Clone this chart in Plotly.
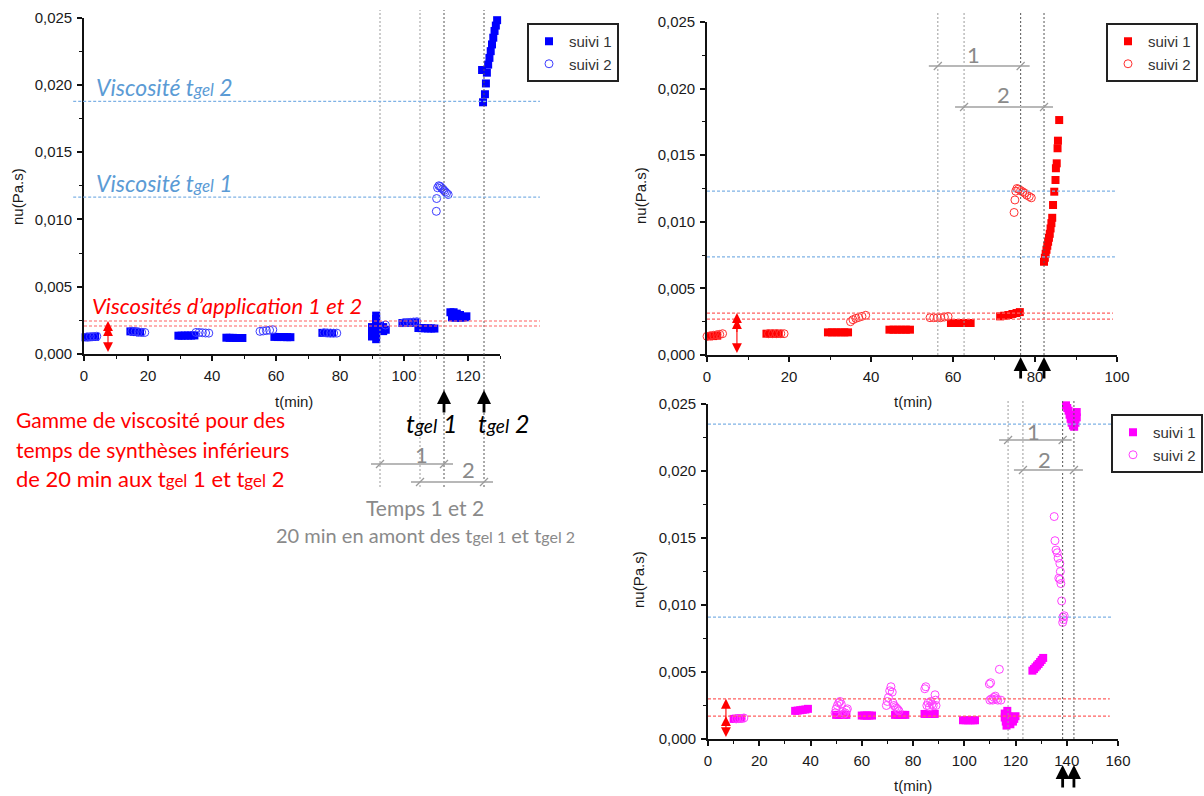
import plotly.graph_objects as go

W, H = 1204, 796

# ---------------- data ----------------
# Panel A (left, blue): (t [min], nu [Pa.s])
a_suivi1 = [
    (0.5, 0.00124), (1.5, 0.00125), (2.5, 0.00127), (3.5, 0.00128),
    (14.5, 0.00168), (15.5, 0.00166), (16.5, 0.00163), (17.5, 0.00160),
    (29.5, 0.00136), (30.5, 0.00136), (31.5, 0.00137), (32.5, 0.00137), (33.5, 0.00137), (34.5, 0.00138),
    (44.5, 0.00121), (45.5, 0.00120), (46.5, 0.00120), (47.5, 0.00119), (48.5, 0.00119), (49.5, 0.00119),
    (59.5, 0.00127), (60.5, 0.00126), (61.5, 0.00126), (62.5, 0.00126), (63.5, 0.00125), (64.5, 0.00125),
    (74.5, 0.00157), (75.5, 0.00156), (76.5, 0.00155), (77.5, 0.00155),
    (90.0, 0.00130), (90.0, 0.00170), (90.0, 0.00200),
    (91.3, 0.00110), (91.3, 0.00140), (91.3, 0.00170), (91.3, 0.00200), (91.3, 0.00230), (91.3, 0.00260), (91.3, 0.00285),
    (92.5, 0.00180), (92.5, 0.00210), (93.5, 0.00170), (93.5, 0.00200), (94.3, 0.00180),
    (99.5, 0.00230), (100.5, 0.00231), (101.5, 0.00232), (102.5, 0.00233), (103.5, 0.00235),
    (104.5, 0.00193), (105.5, 0.00192), (106.5, 0.00191), (107.5, 0.00190), (108.5, 0.00190), (109.5, 0.00189),
    (114.5, 0.00310), (115.5, 0.00310), (116.5, 0.00300), (117.5, 0.00290), (115.0, 0.00272), (116.0, 0.00270),
    (117.0, 0.00270), (118.0, 0.00270), (119.0, 0.00272), (119.5, 0.00280),
    (124.7, 0.01870), (125.3, 0.01930), (125.6, 0.02010), (124.4, 0.02110), (125.9, 0.02090), (126.3, 0.02150),
    (126.7, 0.02200), (127.1, 0.02250), (127.5, 0.02300), (127.9, 0.02350), (128.3, 0.02400), (128.7, 0.02440),
    (129.1, 0.02480),
]
a_suivi2 = [
    (1.0, 0.00128), (2.0, 0.00129), (3.0, 0.00130), (4.0, 0.00132),
    (15.0, 0.00170), (16.0, 0.00168), (17.0, 0.00165), (18.0, 0.00162), (19.0, 0.00160),
    (35.0, 0.00160), (36.0, 0.00160), (37.0, 0.00158), (38.0, 0.00156), (39.0, 0.00155),
    (55.0, 0.00168), (56.0, 0.00171), (57.0, 0.00174), (58.0, 0.00177), (59.0, 0.00180),
    (75.0, 0.00158), (76.0, 0.00157), (77.0, 0.00156), (78.0, 0.00155), (79.0, 0.00155),
    (94.2, 0.00215),
    (100.0, 0.00233), (101.0, 0.00234), (102.0, 0.00235), (103.0, 0.00238), (104.0, 0.00240),
    (110.1, 0.01060), (110.2, 0.01155), (110.5, 0.01235), (110.9, 0.01250), (111.3, 0.01245), (111.7, 0.01235),
    (112.1, 0.01225), (112.5, 0.01215), (112.9, 0.01205), (113.3, 0.01195), (113.8, 0.01185),
]
a_vlines = [92.5, 105.0, 112.5, 125.0]          # t-20 (x2), tgel1, tgel2
a_gel_levels = [0.01165, 0.01877]
a_app_levels = [0.00208, 0.00245]

# Panel B (top right, red)
b_suivi1 = [
    (0.5, 0.00140), (1.5, 0.00142), (2.5, 0.00145),
    (14.5, 0.00160), (15.5, 0.00160), (16.5, 0.00160), (17.5, 0.00160),
    (29.5, 0.00170), (30.5, 0.00170), (31.5, 0.00170), (32.5, 0.00170), (33.5, 0.00170), (34.4, 0.00170),
    (44.5, 0.00190), (45.5, 0.00190), (46.5, 0.00190), (47.5, 0.00190), (48.5, 0.00190), (49.5, 0.00190),
    (59.5, 0.00240), (60.5, 0.00240), (61.5, 0.00240), (62.5, 0.00240), (63.5, 0.00240), (64.3, 0.00240),
    (71.5, 0.00290), (72.5, 0.00295), (73.5, 0.00300), (74.5, 0.00308), (75.5, 0.00315), (76.3, 0.00322),
    (82.2, 0.00700), (82.4, 0.00730), (82.6, 0.00760), (82.8, 0.00790), (83.0, 0.00820), (83.2, 0.00850),
    (83.4, 0.00880), (83.6, 0.00910), (83.8, 0.00950), (84.0, 0.00990), (84.2, 0.01030), (84.4, 0.01126),
    (84.7, 0.01226), (85.0, 0.01314), (85.1, 0.01402), (85.3, 0.01439), (85.5, 0.01552), (85.6, 0.01609),
    (85.9, 0.01764),
]
b_suivi2 = [
    (0.0, 0.00140), (0.8, 0.00145), (1.6, 0.00148), (2.4, 0.00152), (3.1, 0.00155), (3.8, 0.00160),
    (15.0, 0.00160), (16.0, 0.00160), (17.0, 0.00160), (18.0, 0.00160), (18.8, 0.00160),
    (35.0, 0.00250), (35.6, 0.00265), (36.3, 0.00275), (37.0, 0.00282), (37.8, 0.00290), (38.7, 0.00298),
    (54.4, 0.00280), (55.3, 0.00280), (56.2, 0.00280), (57.0, 0.00280), (57.9, 0.00285), (58.8, 0.00290),
    (74.9, 0.01070), (75.1, 0.01164), (75.3, 0.01230), (75.6, 0.01250), (76.0, 0.01245), (76.5, 0.01235),
    (77.0, 0.01225), (77.5, 0.01215), (78.0, 0.01200), (78.6, 0.01190), (79.1, 0.01180),
]
b_vlines = [56.3, 62.7, 76.5, 82.2]
b_gel_levels = [0.00736, 0.01230]
b_app_levels = [0.00270, 0.00315]

# Panel C (bottom right, magenta)
c_suivi1 = [
    (10.0, 0.00150), (11.0, 0.00152), (12.0, 0.00153), (13.0, 0.00155),
    (34.0, 0.00210), (35.0, 0.00212), (36.0, 0.00215), (37.0, 0.00218), (38.0, 0.00220), (39.0, 0.00225),
    (50.0, 0.00180), (51.0, 0.00180), (52.0, 0.00180), (53.0, 0.00180), (54.0, 0.00180),
    (60.0, 0.00175), (61.0, 0.00175), (62.0, 0.00175), (63.0, 0.00175), (64.0, 0.00175),
    (73.0, 0.00180), (74.0, 0.00180), (75.0, 0.00180), (76.0, 0.00180), (77.0, 0.00180),
    (84.5, 0.00187), (85.5, 0.00187), (86.5, 0.00187), (87.5, 0.00187), (88.5, 0.00187),
    (99.5, 0.00140), (100.5, 0.00140), (101.5, 0.00140), (102.5, 0.00140), (103.5, 0.00140), (104.2, 0.00140),
    (115.8, 0.00190), (115.8, 0.00160), (116.2, 0.00130), (116.5, 0.00100), (116.8, 0.00210), (117.2, 0.00170),
    (117.6, 0.00140), (118.0, 0.00110), (118.5, 0.00160), (119.0, 0.00130), (119.5, 0.00150), (120.0, 0.00170),
    (126.6, 0.00510), (127.2, 0.00522), (127.8, 0.00535), (128.4, 0.00548), (129.0, 0.00560), (129.6, 0.00575),
    (130.2, 0.00590), (130.8, 0.00605),
    (139.7, 0.02490), (140.2, 0.02470), (140.7, 0.02450), (141.1, 0.02420), (141.5, 0.02390), (141.9, 0.02360),
    (142.4, 0.02340), (142.9, 0.02330), (143.4, 0.02360), (143.9, 0.02400), (143.9, 0.02440),
]
c_suivi2 = [
    (11.0, 0.00150), (12.0, 0.00152), (13.0, 0.00153), (14.0, 0.00157),
    (49.6, 0.00195), (50.0, 0.00225), (50.5, 0.00250), (51.0, 0.00270), (51.5, 0.00280), (52.0, 0.00260),
    (52.5, 0.00205), (53.0, 0.00185), (53.5, 0.00195), (54.0, 0.00215), (54.4, 0.00225),
    (69.6, 0.00250), (70.0, 0.00280), (70.4, 0.00310), (70.9, 0.00360), (71.4, 0.00390), (71.9, 0.00350),
    (72.2, 0.00270), (72.6, 0.00250), (73.1, 0.00240), (73.6, 0.00230), (74.1, 0.00220), (74.5, 0.00210),
    (84.6, 0.00375), (85.0, 0.00390), (85.4, 0.00250), (85.9, 0.00270), (86.4, 0.00240), (86.9, 0.00280),
    (87.4, 0.00260), (87.9, 0.00250), (88.6, 0.00330), (88.8, 0.00290), (89.0, 0.00250),
    (109.8, 0.00410), (110.3, 0.00420), (110.0, 0.00290), (110.6, 0.00300), (111.1, 0.00290), (111.6, 0.00310),
    (112.1, 0.00320), (112.6, 0.00300), (113.1, 0.00290), (113.7, 0.00520), (114.3, 0.00290),
    (135.1, 0.01660), (135.4, 0.01480), (135.8, 0.01410), (136.3, 0.01390), (136.6, 0.01350), (137.3, 0.01310),
    (137.5, 0.01250), (136.9, 0.01200), (137.4, 0.01190), (137.7, 0.01160), (138.0, 0.01030), (138.4, 0.00870),
    (138.5, 0.00910), (138.7, 0.00890), (139.0, 0.00920),
]
c_vlines = [117.1, 122.9, 138.4, 142.8]
c_gel_levels = [0.00910, 0.02350]
c_app_levels = [0.00170, 0.00300]

y_range = [0, 0.025]

# ---------------- helpers ----------------
def fx(p):
    return p / W


def fy(p):
    return 1 - p / H


TICKFONT = dict(family="Liberation Sans, Arial, sans-serif", size=15, color="#1a1a1a")
TXT = "Lato, 'Open Sans', sans-serif"
GRAY_T = "#8a8a8a"
GRAY_L = "#b8b8b8"
BLUE_T = "#5b9bd5"
BLUE_L = "#7fb2e5"
RED_L = "#ff6060"

fig = go.Figure()
shapes = []
annots = []

panels = [
    dict(xa="x", ya="y", xid="xaxis", yid="yaxis", xr=[0, 130], xpx=[84, 500], ypx=[354, 17.5],
         s1=a_suivi1, s2=a_suivi2, c1="#0000ff", c2="#3c3cff", leg="legend",
         vl=a_vlines, vtop=10, vbot=487, gel=a_gel_levels, app=a_app_levels,
         blue_x=[-0.026, 1.096], red_x=[0.0, 1.096], arrow_x=7.5,
         dim_py=[464, 482], dim_lab=[(421, 455), (468, 470)],
         up_arrows_py=(390, 24), tmin=(294, 401), nu=(17, 197)),
    dict(xa="x2", ya="y2", xid="xaxis2", yid="yaxis2", xr=[0, 100], xpx=[707, 1117], ypx=[355, 22],
         s1=b_suivi1, s2=b_suivi2, c1="#ff0000", c2="#ff3030", leg="legend2",
         vl=b_vlines, vtop=12, vbot=355, gel=b_gel_levels, app=b_app_levels,
         blue_x=[0.0, 0.995], red_x=[0.0, 0.99], arrow_x=7.3,
         dim_py=[66, 107], dim_lab=[(973, 55), (1003, 95)],
         up_arrows_py=(357, 23), tmin=(913, 401), nu=(640, 196)),
    dict(xa="x3", ya="y3", xid="xaxis3", yid="yaxis3", xr=[0, 160], xpx=[708, 1118], ypx=[739, 404],
         s1=c_suivi1, s2=c_suivi2, c1="#ff00ff", c2="#ff40ff", leg="legend3",
         vl=c_vlines, vtop=400, vbot=739, gel=c_gel_levels, app=c_app_levels,
         blue_x=[0.0, 0.985], red_x=[0.0, 0.98], arrow_x=7.0,
         dim_py=[440, 470], dim_lab=[(1033, 431), (1044, 460)],
         up_arrows_py=(765, 24), tmin=(913, 785), nu=(638, 580)),
]

layout_axes = {}
for p in panels:
    xa, ya = p["xa"], p["ya"]
    s1x, s1y = zip(*p["s1"])
    s2x, s2y = zip(*p["s2"])
    fig.add_trace(go.Scatter(
        x=s1x, y=s1y, mode="markers", name="suivi 1", xaxis=xa, yaxis=ya, legend=p["leg"],
        marker=dict(symbol="square", size=8, color=p["c1"], line=dict(width=0)), cliponaxis=False))
    fig.add_trace(go.Scatter(
        x=s2x, y=s2y, mode="markers", name="suivi 2", xaxis=xa, yaxis=ya, legend=p["leg"],
        marker=dict(symbol="circle-open", size=8, color=p["c2"], line=dict(color=p["c2"], width=1)),
        cliponaxis=False))

    ydom = [fy(p["ypx"][0]), fy(p["ypx"][1])]
    common = dict(showline=True, linecolor="#111", linewidth=1.6, ticks="outside", ticklen=5,
                  tickwidth=1.5, tickcolor="#111", showgrid=False, zeroline=False, tickfont=TICKFONT,
                  ticklabelstandoff=2, automargin=False)
    layout_axes[p["xid"]] = dict(common, domain=[fx(p["xpx"][0]), fx(p["xpx"][1])], range=p["xr"],
                                 anchor=ya, tick0=0, dtick=20,
                                 minor=dict(ticks="outside", ticklen=3, tickwidth=1.2, tickcolor="#111",
                                            dtick=10, tick0=0, showgrid=False))
    layout_axes[p["yid"]] = dict(common, domain=ydom, range=y_range, anchor=xa, tick0=0, dtick=0.005,
                                 tickformat=".3f",
                                 minor=dict(ticks="outside", ticklen=3, tickwidth=1.2, tickcolor="#111",
                                            dtick=0.0025, tick0=0, showgrid=False))

    # vertical dashed lines
    ylen = p["ypx"][0] - p["ypx"][1]
    vt = (p["ypx"][0] - p["vtop"]) / ylen
    vb = (p["ypx"][0] - p["vbot"]) / ylen
    for i, v in enumerate(p["vl"]):
        shapes.append(dict(type="line", xref=xa, yref=ya + " domain", x0=v, x1=v, y0=vb, y1=vt,
                           line=dict(color="#9a9a9a" if i < 2 else "#555555", width=1, dash="2px,2px")))
    # horizontal levels
    for g in p["gel"]:
        shapes.append(dict(type="line", xref=xa + " domain", yref=ya, x0=p["blue_x"][0], x1=p["blue_x"][1],
                           y0=g, y1=g, line=dict(color=BLUE_L, width=1.2, dash="3px,2px")))
    for a in p["app"]:
        shapes.append(dict(type="line", xref=xa + " domain", yref=ya, x0=p["red_x"][0], x1=p["red_x"][1],
                           y0=a, y1=a, line=dict(color=RED_L, width=1.2, dash="3px,2px")))

    # dimension lines "1" and "2"
    scale = (p["xpx"][1] - p["xpx"][0]) / (p["xr"][1] - p["xr"][0])
    for k in range(2):
        left, right = p["vl"][k], p["vl"][k + 2]
        ypos = fy(p["dim_py"][k])
        shapes.append(dict(type="line", xref=xa, yref="paper", x0=left - 9 / scale, x1=right + 9 / scale,
                           y0=ypos, y1=ypos, line=dict(color=GRAY_L, width=2)))
        for sx in (left, right):
            shapes.append(dict(type="line", xref=xa, yref="paper", xsizemode="pixel", ysizemode="pixel",
                               xanchor=sx, yanchor=ypos, x0=-4, x1=4, y0=-4, y1=4,
                               line=dict(color="#9a9a9a", width=1.2)))
        lx, ly = p["dim_lab"][k]
        annots.append(dict(x=fx(lx), y=fy(ly), xref="paper", yref="paper", text=str(k + 1), showarrow=False,
                           font=dict(family=TXT, size=22, color=GRAY_T), xanchor="center", yanchor="middle"))

    # red double arrow (range of application viscosities)
    lo_app, hi_app = min(p["app"]), max(p["app"])
    annots.append(dict(x=p["arrow_x"], y=hi_app, ax=p["arrow_x"], ay=0.00003, xref=xa, yref=ya,
                       axref=xa, ayref=ya, text="", showarrow=True, arrowhead=2, startarrowhead=2,
                       arrowside="end+start", arrowsize=1.8, startarrowsize=1.8, arrowwidth=1.1,
                       arrowcolor="#ff0000"))
    annots.append(dict(x=p["arrow_x"], y=lo_app, ax=p["arrow_x"], ay=lo_app * 0.6, xref=xa, yref=ya,
                       axref=xa, ayref=ya, text="", showarrow=True, arrowhead=2,
                       arrowsize=1.8, arrowwidth=1.1, arrowcolor="#ff0000"))

    # black arrows at gel times
    tip, length = p["up_arrows_py"]
    for v in p["vl"][2:]:
        annots.append(dict(x=v, y=fy(tip), xref=xa, yref="paper", ax=0, ay=length, text="",
                           showarrow=True, arrowhead=2, arrowsize=1, arrowwidth=2.8, arrowcolor="#000"))

    # axis titles
    annots.append(dict(x=fx(p["tmin"][0]), y=fy(p["tmin"][1]), xref="paper", yref="paper", text="t(min)",
                       showarrow=False, font=dict(family="Liberation Sans, Arial", size=15, color="#1a1a1a"),
                       xanchor="center", yanchor="middle"))
    annots.append(dict(x=fx(p["nu"][0]), y=fy(p["nu"][1]), xref="paper", yref="paper", text="nu(Pa.s)",
                       showarrow=False, textangle=-90,
                       font=dict(family="Liberation Sans, Arial", size=15, color="#1a1a1a"),
                       xanchor="center", yanchor="middle"))

# ---------------- text annotations (left panel) ----------------
def tg(size):
    return "t<span style='font-size:%dpx'>gel</span>" % size


def txt(px_, py_, text, size, color, anchor="left", italic=False):
    t = "<i>%s</i>" % text if italic else text
    annots.append(dict(x=fx(px_), y=fy(py_), xref="paper", yref="paper", text=t, showarrow=False,
                       font=dict(family=TXT, size=size, color=color), xanchor=anchor, yanchor="middle"))


txt(94, 87, "Viscosité %s 2" % tg(17), 23, BLUE_T, italic=True)
txt(94, 183, "Viscosité %s 1" % tg(17), 23, BLUE_T, italic=True)
txt(90, 305, "Viscosités d’application 1 et 2", 22, "#ff0000", italic=True)
txt(14, 420, "Gamme de viscosité pour des", 21, "#ff0000")
txt(14, 449, "temps de synthèses inférieurs", 21, "#ff0000")
txt(14, 478, "de 20 min aux %s 1 et %s 2" % (tg(17), tg(17)), 22, "#ff0000")
txt(432, 423, "t<span style='font-size:19px'>gel</span> 1", 25, "#000000", anchor="center", italic=True)
txt(504, 423, "t<span style='font-size:19px'>gel</span> 2", 25, "#000000", anchor="center", italic=True)
txt(425, 507, "Temps 1 et 2", 21, GRAY_T, anchor="center")
txt(425, 535, "20 min en amont des t<span style='font-size:16px'>gel 1</span> et t<span style='font-size:16px'>gel 2</span>",
    20, GRAY_T, anchor="center")

legend_style = dict(yanchor="top", bgcolor="white", bordercolor="#222", borderwidth=2,
                    font=dict(family="Liberation Sans, Arial", size=15, color="#333"), tracegroupgap=0,
                    itemwidth=30)

fig.update_layout(
    width=W, height=H, autosize=False,
    margin=dict(l=0, r=0, t=0, b=0, autoexpand=False),
    paper_bgcolor="white", plot_bgcolor="white",
    separators=", ",
    showlegend=True,
    legend=dict(legend_style, x=fx(527), xanchor="left", y=fy(23)),
    legend2=dict(legend_style, x=fx(1198), xanchor="right", y=fy(23)),
    legend3=dict(legend_style, x=fx(1203), xanchor="right", y=fy(414)),
    shapes=shapes,
    annotations=annots,
    **layout_axes,
)

fig.write_html("out.html", config={"displayModeBar": False},
               post_script="document.body.style.margin='0px';document.body.style.overflow='hidden';")
